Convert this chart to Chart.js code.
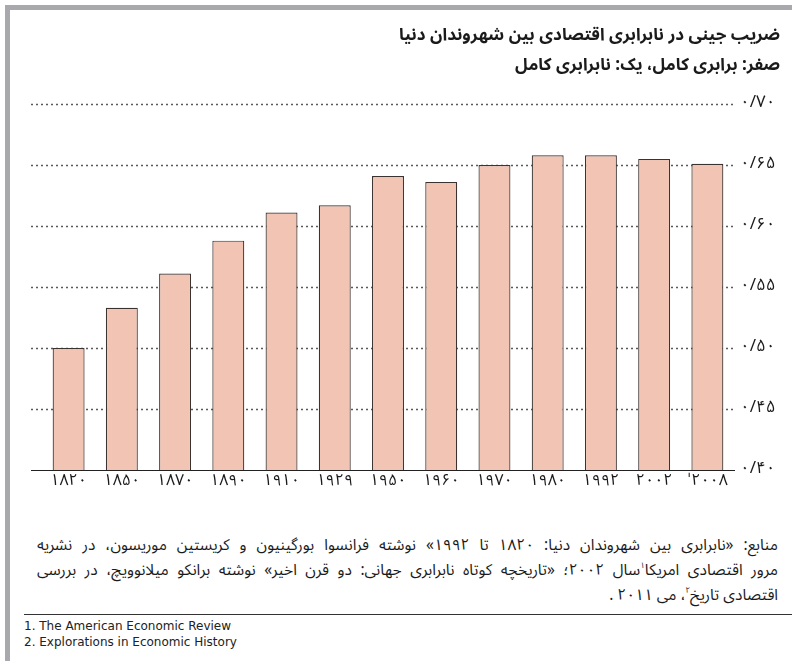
<!DOCTYPE html>
<html lang="fa">
<head>
<meta charset="utf-8">
<script src="https://cdn.jsdelivr.net/npm/chart.js@4.4.1/dist/chart.umd.min.js"></script>
<style>
  html, body { margin: 0; padding: 0; background: #fff; }
  body { width: 792px; height: 661px; position: relative; overflow: hidden;
         font-family: "Noto Sans Arabic", "DejaVu Sans", sans-serif; color: #1a1a1a; }
  .frame-top { position: absolute; left: 5px; top: 5px; width: 787px; height: 5px; background: #a7a9ac; }
  .frame-left { position: absolute; left: 5px; top: 5px; width: 5px; height: 656px; background: #a7a9ac; }
  #chart { position: absolute; left: 0; top: 0; }
  .title { position: absolute; right: 12px; direction: rtl; text-align: right; font-weight: bold; white-space: nowrap; font-size: 17px; }
  #t1 { top: 17px; }
  #t2 { top: 47px; }
  .source { position: absolute; left: 37px; width: 741px; direction: rtl; font-size: 15.5px; line-height: 25px; }
  .source div { white-space: nowrap; }
  .source .j { text-align: justify; text-align-last: justify; }
  .source sup { font-size: 8px; line-height: 0; vertical-align: 7px; }
  .rule { position: absolute; left: 24px; top: 614px; width: 768px; height: 1px; background: #333; }
  .notes { position: absolute; left: 24px; top: 618px; font-family: "DejaVu Sans", sans-serif; font-size: 12px; line-height: 16px; color: #222; }
</style>
</head>
<body>
<div class="frame-top"></div>
<div class="frame-left"></div>
<canvas id="chart" width="792" height="500"></canvas>

<div class="title" id="t1">ضریب جینی در نابرابری اقتصادی بین شهروندان دنیا</div>
<div class="title" id="t2">صفر: برابری کامل، یک: نابرابری کامل</div>

<div class="source" style="top:533px;">
  <div class="j">منابع: «نابرابری بین شهروندان دنیا: ۱۸۲۰ تا ۱۹۹۲» نوشته فرانسوا بورگینیون و کریستین موریسون، در نشریه</div>
  <div class="j">مرور اقتصادی امریکا<sup>۱</sup>سال ۲۰۰۲؛ «تاریخچه کوتاه نابرابری جهانی: دو قرن اخیر» نوشته برانکو میلانوویچ، در بررسی</div>
  <div style="text-align:right;">اقتصادی تاریخ<sup>۲</sup>، می ۲۰۱۱ .</div>
</div>

<div class="rule"></div>
<div class="notes">
  <div>1. The American Economic Review</div>
  <div>2. Explorations in Economic History</div>
</div>

<script>
// Years shown under the bars (Persian numerals)
const years = ['۱۸۲۰', '۱۸۵۰', '۱۸۷۰', '۱۸۹۰', '۱۹۱۰', '۱۹۲۹', '۱۹۵۰', '۱۹۶۰', '۱۹۷۰', '۱۹۸۰', '۱۹۹۲', '۲۰۰۲', 'ˈ۲۰۰۸'];
// Global Gini coefficient between world citizens
const giniValues = [0.500, 0.533, 0.561, 0.588, 0.611, 0.617, 0.641, 0.636, 0.650, 0.658, 0.658, 0.655, 0.651];
// Labels for the value axis, from 0.40 up to 0.70
const yTickValues = [0.40, 0.45, 0.50, 0.55, 0.60, 0.65, 0.70];
const yTickLabels = ['۰/۴۰', '۰/۴۵', '۰/۵۰', '۰/۵۵', '۰/۶۰', '۰/۶۵', '۰/۷۰'];

const FONT = '"Noto Sans Arabic", "DejaVu Sans", sans-serif';

// Dotted guide lines that run past the first bar, plus the solid base line
const guideLines = {
  id: 'guideLines',
  beforeDatasetsDraw(chart) {
    const { ctx, chartArea, scales } = chart;
    const y = scales.y;
    const x0 = 31, x1 = chartArea.right + 1;
    ctx.save();
    yTickValues.forEach((v, i) => {
      const py = Math.round(y.getPixelForValue(v)) + 0.5;
      ctx.beginPath();
      if (i === 0) {
        ctx.setLineDash([]);
        ctx.strokeStyle = '#222';
        ctx.lineWidth = 1.2;
      } else {
        ctx.setLineDash([2, 3]);
        ctx.strokeStyle = '#5a5a5a';
        ctx.lineWidth = 1.5;
      }
      ctx.moveTo(x0, py);
      ctx.lineTo(x1, py);
      ctx.stroke();
    });
    ctx.restore();
  }
};

new Chart(document.getElementById('chart'), {
  type: 'bar',
  data: {
    labels: years,
    datasets: [{
      data: giniValues,
      backgroundColor: '#f2c4b3',
      borderColor: '#3b3330',
      borderWidth: 1.2,
      borderSkipped: 'bottom',
      categoryPercentage: 1.0,
      barPercentage: 0.6
    }]
  },
  options: {
    responsive: false,
    animation: false,
    devicePixelRatio: 1,
    layout: { padding: { left: 42, top: 104, right: 0, bottom: 0 } },
    plugins: { legend: { display: false }, tooltip: { enabled: false }, title: { display: false } },
    scales: {
      x: {
        grid: { display: false, drawTicks: false },
        border: { display: false },
        ticks: { color: '#1a1a1a', font: { family: FONT, size: 16 }, padding: 3, maxRotation: 0, autoSkip: false },
        afterFit(scale) { scale.height = 30; }
      },
      y: {
        position: 'right',
        min: 0.40,
        max: 0.70,
        afterBuildTicks(scale) { scale.ticks = yTickValues.map(v => ({ value: v })); },
        grid: { display: false, drawTicks: false },
        border: { display: false },
        ticks: {
          color: '#1a1a1a',
          font: { family: FONT, size: 17 },
          padding: 6,
          callback: (value, index) => yTickLabels[index]
        },
        afterFit(scale) { scale.width = 58; }
      }
    }
  },
  plugins: [guideLines]
});
</script>
</body>
</html>
